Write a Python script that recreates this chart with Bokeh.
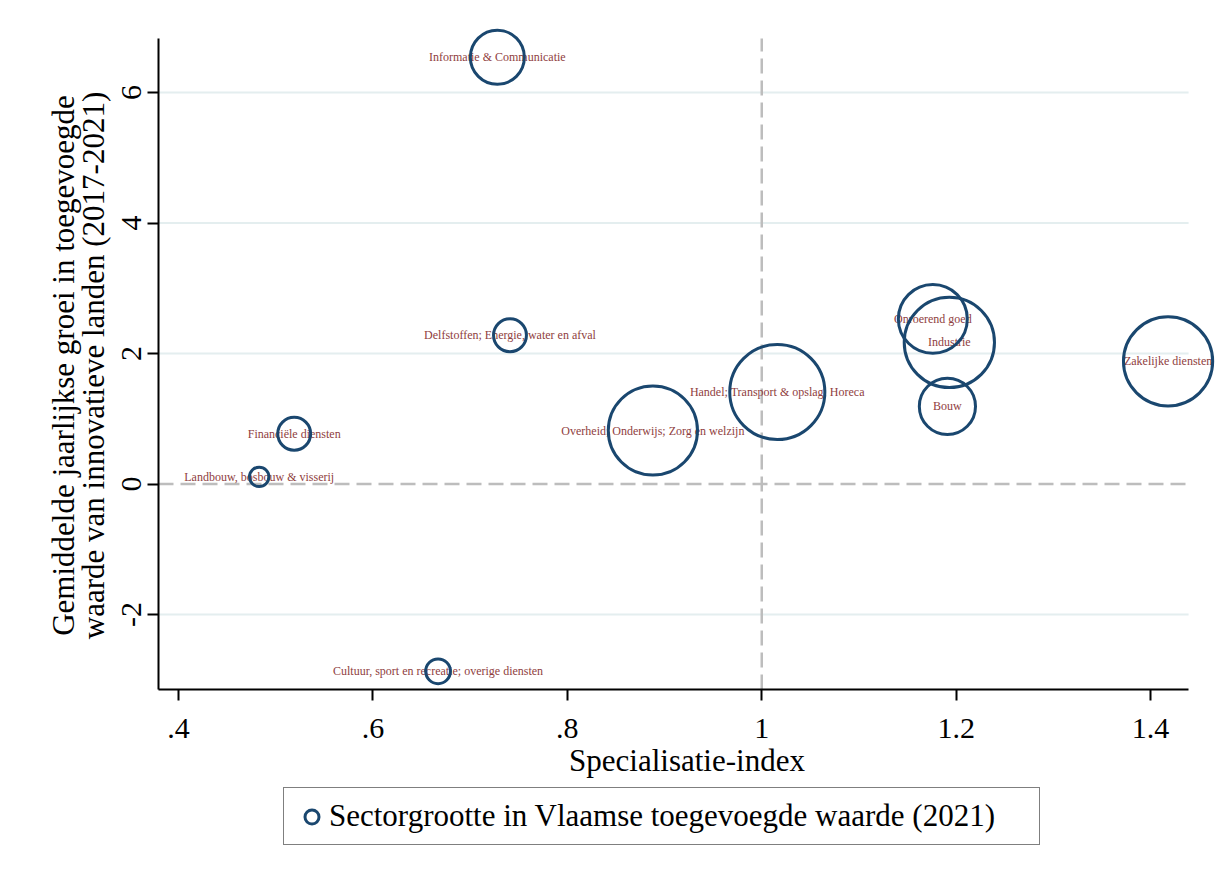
import numpy as np
from bokeh.plotting import figure
from bokeh.layouts import column
from bokeh.models import Range1d, FixedTicker, Legend, LegendItem
from bokeh.core.properties import value
from bokeh.embed import file_html
from bokeh.resources import INLINE

# ---------------- data ----------------
sectors = [
    "Informatie & Communicatie",
    "Delfstoffen; Energie, water en afval",
    "Onroerend goed",
    "Industrie",
    "Bouw",
    "Zakelijke diensten",
    "Handel; Transport & opslag; Horeca",
    "Overheid; Onderwijs; Zorg en welzijn",
    "Financiële diensten",
    "Landbouw, bosbouw & visserij",
    "Cultuur, sport en recreatie; overige diensten",
]
spec_index = [0.728, 0.741, 1.176, 1.193, 1.191, 1.418, 1.016, 0.888, 0.519, 0.483, 0.667]
growth = [6.54, 2.28, 2.53, 2.17, 1.19, 1.88, 1.41, 0.82, 0.77, 0.11, -2.87]
share = [6.2, 2.3, 10.1, 17.3, 6.7, 16.9, 19.2, 16.9, 2.3, 0.8, 1.3]

x_ticks = [0.4, 0.6, 0.8, 1.0, 1.2, 1.4]
x_tick_labels = [".4", ".6", ".8", "1", "1.2", "1.4"]
y_ticks = [-2, 0, 2, 4, 6]
y_tick_labels = ["-2", "0", "2", "4", "6"]
ref_x = 1.0
ref_y = 0.0

legend_label = "Sectorgrootte in Vlaamse toegevoegde waarde (2021)"
x_title = "Specialisatie-index"
y_title_lines = ["Gemiddelde jaarlijkse groei in toegevoegde",
                 "waarde van innovatieve landen (2017-2021)"]

# ---------------- layout constants ----------------
X0, X_AX_END, X1 = 0.3794, 1.4391, 1.4668
Y0, Y_AX_END, Y1 = -3.149, 6.828, 7.257
SERIF = "Liberation Serif"
NAVY = "#1a476f"
LABEL_RED = "#8f3e3e"
GRID = "#e4eeef"
DASH = "#bdbdbd"
BUBBLE_SCALE = 21.7
TICK_FS = "30px"
TITLE_FS = "31px"
W = 1215
PAD = "\u00a0" * 4  # nudges the y title toward the centre of the drawn axis

sizes = [BUBBLE_SCALE * float(np.sqrt(s)) for s in share]

p = figure(width=W, height=780,
           x_range=Range1d(X0, X1), y_range=Range1d(Y0, Y1),
           output_backend="svg", toolbar_location=None,
           min_border_left=158, min_border_right=0,
           min_border_top=10, min_border_bottom=91,
           outline_line_color=None, background_fill_color="white",
           border_fill_color="white")

p.xgrid.visible = False
p.ygrid.visible = False

grid_y = [t for t in y_ticks if t != ref_y]
p.segment(x0=X0, y0=grid_y, x1=X_AX_END, y1=grid_y,
          line_color=GRID, line_width=2, level="underlay")

p.segment(x0=[X0, ref_x], y0=[ref_y, Y0], x1=[X_AX_END, ref_x], y1=[ref_y, Y_AX_END],
          line_color=DASH, line_width=2.5, line_dash="15 7")

p.text(x=spec_index, y=growth, text=sectors,
       text_align="center", text_baseline="middle",
       text_font=value(SERIF), text_font_size="12px", text_color=LABEL_RED)

r = p.scatter(x=spec_index, y=growth, size=sizes, marker="circle",
              fill_color=None, line_color=NAVY, line_width=3)

# axes
for ax in (p.xaxis[0], p.yaxis[0]):
    ax.axis_line_color = "black"
    ax.axis_line_width = 2
    ax.major_tick_line_color = "black"
    ax.major_tick_line_width = 2
    ax.major_tick_out = 11
    ax.major_tick_in = 0
    ax.minor_tick_out = 0
    ax.minor_tick_in = 0
    ax.major_label_text_font = SERIF
    ax.major_label_text_font_size = TICK_FS
    ax.major_label_text_color = "black"
    ax.axis_label_text_font = SERIF
    ax.axis_label_text_font_size = TITLE_FS
    ax.axis_label_text_font_style = "normal"
    ax.axis_label_text_color = "black"

p.xaxis.ticker = FixedTicker(ticks=x_ticks)
p.xaxis.major_label_overrides = dict(zip(x_ticks, x_tick_labels))
p.xaxis.bounds = (X0, X_AX_END)
p.xaxis.axis_label = x_title
p.xaxis.major_label_standoff = 18
p.xaxis.axis_label_standoff = 2

p.yaxis.ticker = FixedTicker(ticks=y_ticks)
p.yaxis.major_label_overrides = dict(zip(y_ticks, y_tick_labels))
p.yaxis.bounds = (Y0, Y_AX_END)
p.yaxis.axis_label = "\n".join(line + PAD for line in y_title_lines)
p.yaxis.axis_label_text_line_height = 0.85
p.yaxis.major_label_orientation = "vertical"
p.yaxis.major_label_standoff = 6
p.yaxis.axis_label_standoff = 9

# ---------------- legend strip below the chart ----------------
q = figure(width=W, height=88, x_range=Range1d(0, 1), y_range=Range1d(0, 1),
           output_backend="svg", toolbar_location=None,
           x_axis_location=None, y_axis_location=None,
           min_border=0, outline_line_color=None,
           background_fill_color="white", border_fill_color="white")
q.xgrid.visible = False
q.ygrid.visible = False
# off-screen stand-in that carries the bubble style into the legend key
key = q.scatter(x=[-10.0], y=[-10.0], marker="circle", fill_color=None,
                line_color=NAVY, line_width=3)

legend = Legend(items=[LegendItem(label=value(legend_label), renderers=[key])],
                location=(125, 23), padding=10, margin=0, spacing=0,
                glyph_width=35, glyph_height=35, label_height=35,
                label_standoff=0, label_width=700,
                label_text_font=SERIF, label_text_font_size=TITLE_FS,
                label_text_color="black",
                border_line_color="black", border_line_width=1.5,
                background_fill_color="white", background_fill_alpha=1.0)
q.add_layout(legend)

layout = column(p, q, spacing=0)
open("out.html", "w").write(file_html(layout, INLINE))
